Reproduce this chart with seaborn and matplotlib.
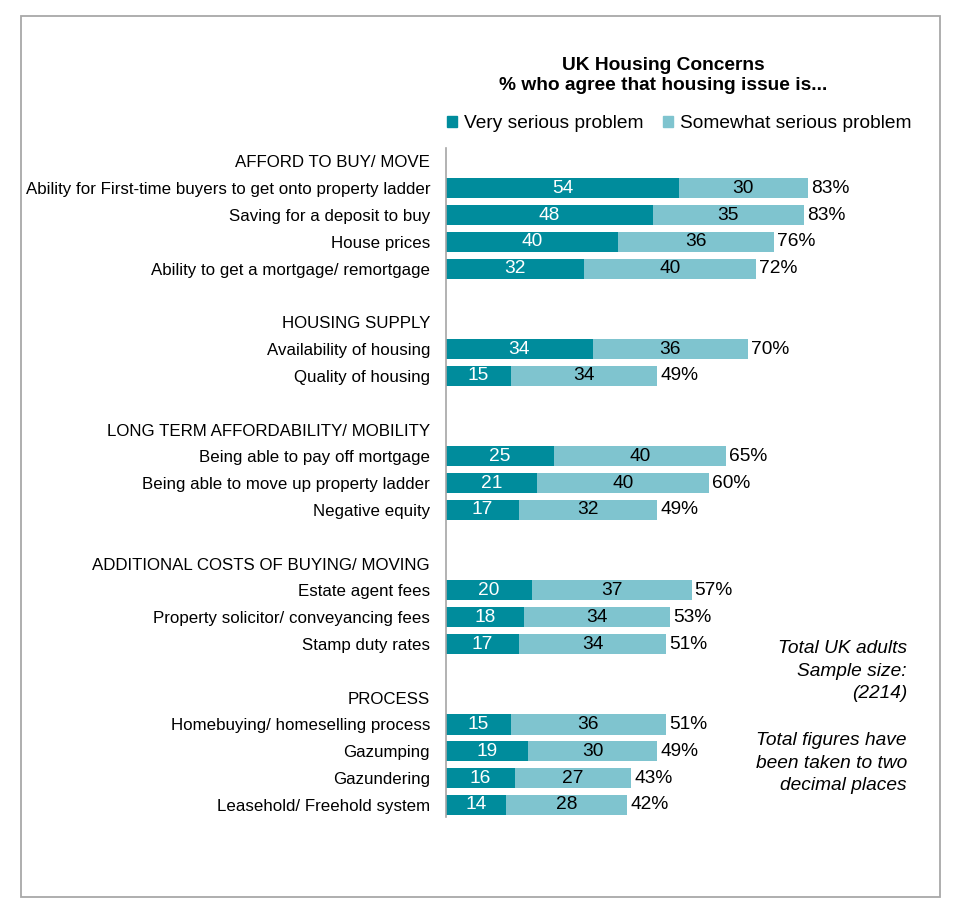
import matplotlib
matplotlib.use("Agg")
import matplotlib.pyplot as plt
import matplotlib.patches as mpatches
import seaborn as sns
import pandas as pd
import numpy as np

# ---- data ----
groups = [
    "AFFORD TO BUY/ MOVE",
    "HOUSING SUPPLY",
    "LONG TERM AFFORDABILITY/ MOBILITY",
    "ADDITIONAL COSTS OF BUYING/ MOVING",
    "PROCESS",
]
items = [
    ["Ability for First-time buyers to get onto property ladder",
     "Saving for a deposit to buy",
     "House prices",
     "Ability to get a mortgage/ remortgage"],
    ["Availability of housing",
     "Quality of housing"],
    ["Being able to pay off mortgage",
     "Being able to move up property ladder",
     "Negative equity"],
    ["Estate agent fees",
     "Property solicitor/ conveyancing fees",
     "Stamp duty rates"],
    ["Homebuying/ homeselling process",
     "Gazumping",
     "Gazundering",
     "Leasehold/ Freehold system"],
]
very_serious = [[54, 48, 40, 32], [34, 15], [25, 21, 17], [20, 18, 17], [15, 19, 16, 14]]
somewhat_serious = [[30, 35, 36, 40], [36, 34], [40, 40, 32], [37, 34, 34], [36, 30, 27, 28]]
totals = [[83, 83, 76, 72], [70, 49], [65, 60, 49], [57, 53, 51], [51, 49, 43, 42]]

series_names = ["Very serious problem", "Somewhat serious problem"]
title_lines = ["UK Housing Concerns", "% who agree that housing issue is..."]
note1 = "Total UK adults\nSample size:\n(2214)"
note2 = "Total figures have\nbeen taken to two\ndecimal places"

DARK = "#008C9C"
LIGHT = "#7FC4CF"

# ---- build table (headers & spacer rows carry no values) ----
rows = []
blank_n = 0
for gi, g in enumerate(groups):
    rows.append(dict(label=g, very=np.nan, some=np.nan, total=np.nan))
    for it, v, s, t in zip(items[gi], very_serious[gi], somewhat_serious[gi], totals[gi]):
        rows.append(dict(label=it, very=v, some=s, total=t))
    if gi < len(groups) - 1:
        blank_n += 1
        rows.append(dict(label=" " * blank_n, very=np.nan, some=np.nan, total=np.nan))
df = pd.DataFrame(rows)
df["stack"] = df["very"] + df["some"]
order = list(df["label"])

# ---- figure ----
sns.set_style("white")
plt.rcParams["font.family"] = ["Liberation Sans", "DejaVu Sans"]
plt.rcParams["text.color"] = "black"
plt.rcParams["axes.labelcolor"] = "black"
plt.rcParams["ytick.color"] = "black"
plt.rcParams["xtick.color"] = "black"

fig = plt.figure(figsize=(9.64, 9.16), dpi=100)
ax = fig.add_axes([446 / 964, 1 - 817 / 916, 431 / 964, (817 - 148) / 916])

sns.barplot(data=df, y="label", x="stack", order=order, color=LIGHT,
            width=0.75, orient="h", ax=ax, errorbar=None, saturation=1, linewidth=0)
sns.barplot(data=df, y="label", x="very", order=order, color=DARK,
            width=0.75, orient="h", ax=ax, errorbar=None, saturation=1, linewidth=0)

ax.set_xlim(0, 100)
ax.set_ylim(len(order) - 0.55, -0.5)
ax.set_xlabel("")
ax.set_ylabel("")
ax.set_xticks([])
for sp in ["top", "right", "bottom"]:
    ax.spines[sp].set_visible(False)
ax.spines["left"].set_color("#A6A6A6")
ax.spines["left"].set_linewidth(1.2)
ax.tick_params(axis="y", length=0, pad=11.5, labelsize=12.2, labelcolor="black")

# value labels
FS = 13.8
for i, r in df.iterrows():
    if np.isnan(r["very"]):
        continue
    ax.text(r["very"] / 2, i, f"{int(r['very'])}", ha="center", va="center",
            color="white", fontsize=FS)
    ax.text(r["very"] + r["some"] / 2, i, f"{int(r['some'])}", ha="center", va="center",
            color="black", fontsize=FS)
    ax.text(r["stack"] + 0.7, i, f"{int(r['total'])}%", ha="left", va="center",
            color="black", fontsize=FS)

# title
fig.text(663 / 964, 1 - 65 / 916, title_lines[0], ha="center", va="center",
         fontsize=FS, fontweight="bold")
fig.text(663 / 964, 1 - 85.5 / 916, title_lines[1], ha="center", va="center",
         fontsize=FS, fontweight="bold")

# legend
handles = [mpatches.Patch(color=DARK, label=series_names[0]),
           mpatches.Patch(color=LIGHT, label=series_names[1])]
fig.legend(handles=handles, loc="center", bbox_to_anchor=(679 / 964, 1 - 124 / 916),
           ncol=2, frameon=False, fontsize=FS, handlelength=0.55, handleheight=0.55,
           handletextpad=0.35, columnspacing=1.0, borderaxespad=0)

# notes
fig.text(907 / 964, 1 - 671 / 916, note1, ha="right", va="center", fontsize=FS,
         style="italic", linespacing=1.4)
fig.text(907 / 964, 1 - 763 / 916, note2, ha="right", va="center", fontsize=FS,
         style="italic", linespacing=1.4)

# outer frame
fig.patches.append(mpatches.Rectangle((21 / 964, 1 - 897 / 916), (940 - 21) / 964,
                                      (897 - 16) / 916, transform=fig.transFigure,
                                      fill=False, edgecolor="#A8A8A8", linewidth=1.3))

fig.savefig("out.png", dpi=100, facecolor="white")
